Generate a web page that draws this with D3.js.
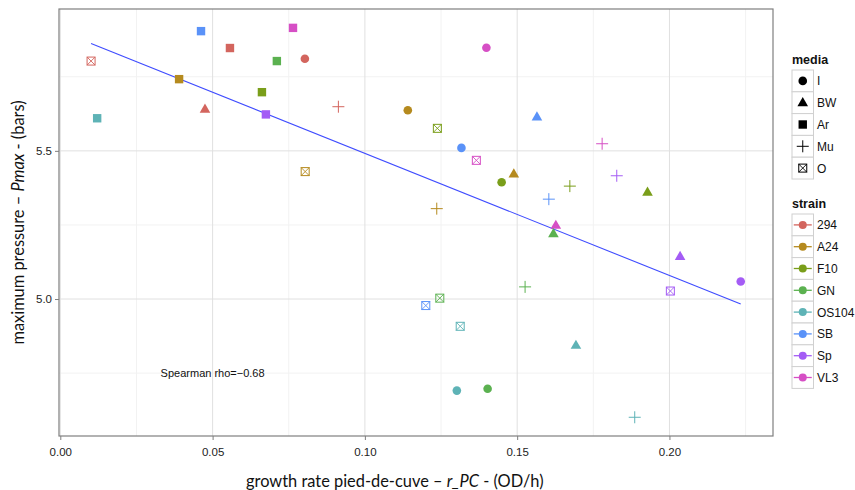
<!DOCTYPE html>
<html>
<head>
<meta charset="utf-8">
<script src="https://cdn.jsdelivr.net/npm/d3@7"></script>
<style>
  body { margin: 0; background: #fff; }
</style>
</head>
<body>
<div id="chart"></div>
<script>
// categories
const strains = ["294", "A24", "F10", "GN", "OS104", "SB", "Sp", "VL3"];
const media = ["I", "BW", "Ar", "Mu", "O"];
const strainColors = ["#d3655e", "#b58a1e", "#7a9e1a", "#5bb150", "#5eb3b6", "#5a92f8", "#a45cf5", "#d64fc5"];

// data points (one entry per strain x medium)
const pStrain = ["294", "OS104", "A24", "SB", "294", "294", "F10", "GN", "Sp", "VL3",
  "294", "294", "A24", "A24", "F10", "SB", "VL3", "VL3", "F10", "A24",
  "SB", "F10", "SB", "VL3", "Sp", "F10", "A24", "VL3", "GN", "GN",
  "GN", "SB", "OS104", "OS104", "GN", "OS104", "OS104", "Sp", "Sp", "Sp"];
const pMedia = ["O", "Ar", "Ar", "Ar", "BW", "Ar", "Ar", "Ar", "Ar", "Ar",
  "I", "Mu", "O", "I", "O", "I", "O", "I", "I", "BW",
  "BW", "Mu", "Mu", "Mu", "Mu", "BW", "Mu", "BW", "BW", "Mu",
  "O", "O", "O", "I", "I", "BW", "Mu", "BW", "O", "I"];
const growthRate = [0.0101, 0.0121, 0.0390, 0.0462, 0.0475, 0.0557, 0.0662, 0.0711, 0.0675, 0.0764,
  0.0803, 0.0913, 0.0804, 0.1141, 0.1238, 0.1317, 0.1366, 0.1399, 0.1449, 0.1489,
  0.1565, 0.1673, 0.1604, 0.1779, 0.1827, 0.1928, 0.1236, 0.1627, 0.1619, 0.1526,
  0.1246, 0.1200, 0.1313, 0.1302, 0.1403, 0.1693, 0.1886, 0.2035, 0.2003, 0.2234];
const pmax = [5.803, 5.610, 5.742, 5.904, 5.641, 5.847, 5.698, 5.803, 5.623, 5.915,
  5.811, 5.649, 5.430, 5.637, 5.576, 5.510, 5.468, 5.848, 5.394, 5.422,
  5.615, 5.381, 5.337, 5.524, 5.416, 5.361, 5.305, 5.249, 5.221, 5.041,
  5.003, 4.978, 4.908, 4.691, 4.697, 4.844, 4.601, 5.144, 5.027, 5.059];

// ticks
const xTicks = [0.00, 0.05, 0.10, 0.15, 0.20];
const xMinor = [0.025, 0.075, 0.125, 0.175, 0.225];
const yTicks = [5.0, 5.5];
const yMinor = [4.75, 5.25, 5.75];

const sans = "Liberation Sans, Arial, sans-serif";
const titleFont = "Lato, 'Open Sans', sans-serif";

const width = 855, height = 490;
const margin = { top: 9, right: 82, bottom: 54, left: 59 };
const pw = width - margin.left - margin.right;
const ph = height - margin.top - margin.bottom;

const svg = d3.select("#chart").append("svg")
  .attr("width", width)
  .attr("height", height)
  .attr("font-family", sans);

const x = d3.scaleLinear().domain([-0.00043, 0.2340]).range([0, pw]);
const y = d3.scaleLinear().domain([4.5378, 5.9787]).range([ph, 0]);
const color = d3.scaleOrdinal().domain(strains).range(strainColors);

const g = svg.append("g").attr("transform", `translate(${margin.left},${margin.top})`);

// grid lines
g.selectAll(".xminor").data(xMinor).enter().append("line")
  .attr("x1", d => x(d)).attr("x2", d => x(d)).attr("y1", 0).attr("y2", ph)
  .attr("stroke", "#f2f2f2").attr("stroke-width", 1);
g.selectAll(".yminor").data(yMinor).enter().append("line")
  .attr("x1", 0).attr("x2", pw).attr("y1", d => y(d)).attr("y2", d => y(d))
  .attr("stroke", "#f2f2f2").attr("stroke-width", 1);
g.selectAll(".xmajor").data(xTicks).enter().append("line")
  .attr("x1", d => x(d)).attr("x2", d => x(d)).attr("y1", 0).attr("y2", ph)
  .attr("stroke", "#e0e0e0").attr("stroke-width", 1);
g.selectAll(".ymajor").data(yTicks).enter().append("line")
  .attr("x1", 0).attr("x2", pw).attr("y1", d => y(d)).attr("y2", d => y(d))
  .attr("stroke", "#e0e0e0").attr("stroke-width", 1);

// regression line (least squares over the points)
const mx = d3.mean(growthRate), my = d3.mean(pmax);
let sxy = 0, sxx = 0;
growthRate.forEach((v, i) => { sxy += (v - mx) * (pmax[i] - my); sxx += (v - mx) * (v - mx); });
const slope = sxy / sxx, intercept = my - slope * mx;
const [xa, xb] = d3.extent(growthRate);
g.append("line")
  .attr("x1", x(xa)).attr("y1", y(intercept + slope * xa))
  .attr("x2", x(xb)).attr("y2", y(intercept + slope * xb))
  .attr("stroke", "#3f4cff").attr("stroke-width", 1.1);

// shape drawing
const drawShape = (sel, m, col) => {
  if (m === "I") {
    sel.append("circle").attr("r", 4.3).attr("fill", col);
  } else if (m === "BW") {
    sel.append("path").attr("d", "M0,-5.6L5.3,3.6L-5.3,3.6Z").attr("fill", col);
  } else if (m === "Ar") {
    sel.append("rect").attr("x", -4.2).attr("y", -4.2).attr("width", 8.4).attr("height", 8.4).attr("fill", col);
  } else if (m === "Mu") {
    sel.append("path").attr("d", "M-6,0H6M0,-6V6").attr("stroke", col).attr("stroke-width", 1).attr("fill", "none");
  } else {
    sel.append("rect").attr("x", -4).attr("y", -4).attr("width", 8).attr("height", 8)
      .attr("fill", "none").attr("stroke", col).attr("stroke-width", 1);
    sel.append("path").attr("d", "M-4,-4L4,4M4,-4L-4,4").attr("stroke", col).attr("stroke-width", 0.9);
  }
};

const points = growthRate.map((v, i) => ({ x: v, y: pmax[i], strain: pStrain[i], media: pMedia[i] }));
g.selectAll(".pt").data(points).enter().append("g")
  .attr("class", "pt")
  .attr("transform", d => `translate(${x(d.x)},${y(d.y)})`)
  .each(function (d) { drawShape(d3.select(this), d.media, color(d.strain)); });

// annotation
g.append("text")
  .attr("x", x(0.05)).attr("y", y(4.75) + 4)
  .attr("text-anchor", "middle")
  .attr("font-size", 11)
  .attr("fill", "#111")
  .text("Spearman rho=\u22120.68");

// panel border
g.append("rect").attr("width", pw).attr("height", ph)
  .attr("fill", "none").attr("stroke", "#7f7f7f").attr("stroke-width", 1.2);

// axes
const xAxis = g.append("g").attr("transform", `translate(0,${ph})`)
  .call(d3.axisBottom(x).tickValues(xTicks).tickFormat(d3.format(".2f")).tickSize(4).tickSizeOuter(0));
const yAxis = g.append("g")
  .call(d3.axisLeft(y).tickValues(yTicks).tickFormat(d3.format(".1f")).tickSize(4).tickSizeOuter(0));
[xAxis, yAxis].forEach(a => {
  a.attr("font-family", sans);
  a.select(".domain").remove();
  a.selectAll("line").attr("stroke", "#7f7f7f");
  a.selectAll("text").attr("font-size", 11.5).attr("fill", "#222");
});
xAxis.selectAll("text").attr("dy", "1.1em");

// axis titles
const xt = svg.append("text")
  .attr("x", 246).attr("y", 487)
  .attr("font-family", titleFont)
  .attr("font-size", 16.4)
  .attr("fill", "#111");
xt.append("tspan").text("growth rate pied-de-cuve \u2013 ");
xt.append("tspan").attr("font-style", "italic").text("r_PC");
xt.append("tspan").text(" - (OD/h)");

const yt = svg.append("text")
  .attr("transform", `translate(24,${margin.top + ph / 2}) rotate(-90)`)
  .attr("text-anchor", "middle")
  .attr("font-family", titleFont)
  .attr("font-size", 16.4)
  .attr("fill", "#111");
yt.append("tspan").text("maximum pressure \u2013 ");
yt.append("tspan").attr("font-style", "italic").text("Pmax");
yt.append("tspan").text(" - (bars)");

// legends
const lx = 792, keyW = 21.5, keyH = 21.8;
const legend = (title, items, top, drawKey) => {
  const lg = svg.append("g").attr("transform", `translate(${lx},${top})`);
  lg.append("text").attr("x", 0).attr("y", -6)
    .attr("font-weight", "bold").attr("font-size", 12.5).attr("fill", "#111").text(title);
  items.forEach((it, i) => {
    const row = lg.append("g").attr("transform", `translate(0,${i * keyH})`);
    row.append("rect").attr("width", keyW).attr("height", keyH)
      .attr("fill", "#fff").attr("stroke", "#d0d0d0").attr("stroke-width", 1);
    const c = row.append("g").attr("transform", `translate(${keyW / 2},${keyH / 2})`);
    drawKey(c, it, i);
    row.append("text").attr("x", keyW + 3.5).attr("y", keyH / 2 + 4.5)
      .attr("font-size", 12).attr("fill", "#111").text(it);
  });
};
legend("media", media, 70, (c, m) => drawShape(c, m, "#000"));
legend("strain", strains, 214, (c, s) => {
  c.append("line").attr("x1", -9).attr("x2", 9).attr("stroke", color(s)).attr("stroke-width", 1.3);
  c.append("circle").attr("r", 4).attr("fill", color(s));
});
</script>
</body>
</html>
